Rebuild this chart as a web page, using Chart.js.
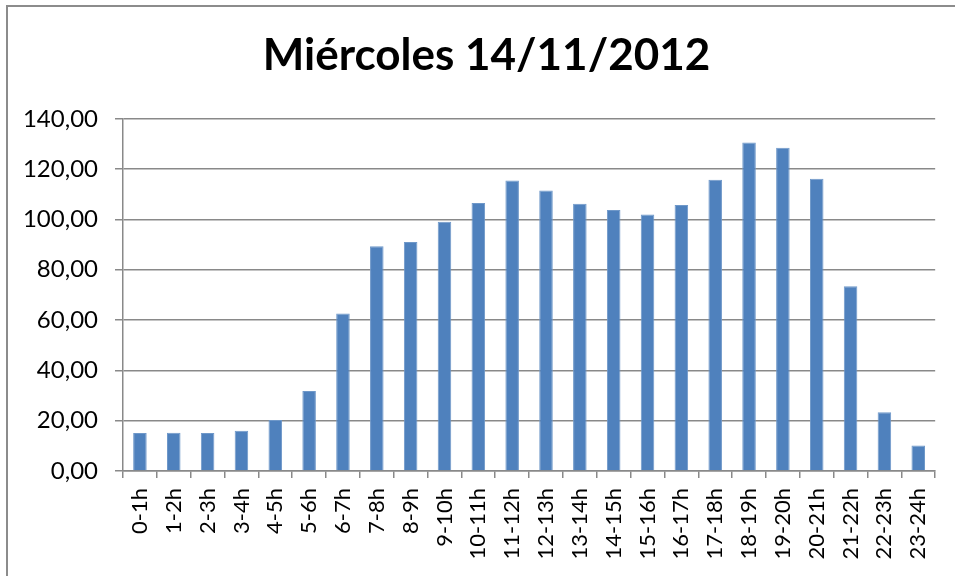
<!DOCTYPE html>
<html>
<head>
<meta charset="utf-8">
<script src="https://cdn.jsdelivr.net/npm/chart.js@4"></script>
<style>
  body { margin: 0; background: #fff; }
  #wrap { position: relative; width: 955px; height: 576px; }
  #frame { position: absolute; left: 6px; top: 5px; right: 0; bottom: 0;
           border-left: 2px solid #8c8c8c; border-top: 2px solid #8c8c8c; }
</style>
</head>
<body>
<div id="wrap">
  <div id="frame"></div>
  <canvas id="myChart" width="955" height="576"></canvas>
</div>
<script>
const labels = [
    '0-1h', '1-2h', '2-3h', '3-4h', '4-5h', '5-6h',
    '6-7h', '7-8h', '8-9h', '9-10h', '10-11h', '11-12h',
    '12-13h', '13-14h', '14-15h', '15-16h', '16-17h', '17-18h',
    '18-19h', '19-20h', '20-21h', '21-22h', '22-23h', '23-24h',
];
const values = [
    15.1, 15.2, 15.1, 16.0, 20.3, 31.8,
    62.6, 89.3, 91.0, 99.1, 106.5, 115.5,
    111.5, 106.2, 103.7, 102.0, 105.7, 115.8,
    130.6, 128.5, 116.2, 73.4, 23.4, 10.1,
];
const yTicks = [0, 20, 40, 60, 80, 100, 120, 140];
const title = 'Miércoles 14/11/2012';

const gridColor = '#898989';

// nudge the title so it is centred like in the original (slightly right of the canvas middle)
const shiftTitle = {
    id: 'shiftTitle',
    afterLayout(chart) {
        if (chart.titleBlock) chart.titleBlock.left += 30;
    }
};

const config = {
    type: 'bar',
    data: {
        labels: labels,
        datasets: [{
            label: title,
            data: values,
            backgroundColor: '#4f81bd',
            borderColor: '#6f98c9',
            borderWidth: 1,
            categoryPercentage: 1,
            barPercentage: 0.4,
        }]
    },
    options: {
        responsive: false,
        animation: false,
        layout: { padding: { left: 5, right: 17, top: 0, bottom: 5 } },
        plugins: {
            legend: { display: false },
            tooltip: { enabled: false },
            title: {
                display: true,
                text: title,
                color: '#000',
                font: { family: 'Lato', size: 44, weight: 'bold' },
                padding: { top: 29, bottom: 37 },
            },
        },
        scales: {
            x: {
                grid: { drawOnChartArea: false, drawTicks: true, tickLength: 7, color: gridColor, lineWidth: 1.5 },
                border: { color: gridColor, width: 1.5 },
                ticks: {
                    color: '#000',
                    font: { family: 'Lato', size: 22 },
                    minRotation: 90, maxRotation: 90,
                    autoSkip: false,
                    padding: 10,
                },
                afterFit: s => { s.height = 100; },
            },
            y: {
                min: 0,
                max: 140,
                afterBuildTicks: s => { s.ticks = yTicks.map(v => ({ value: v })); },
                grid: { color: gridColor, lineWidth: 1.5, tickLength: 8 },
                border: { color: gridColor, width: 1.5 },
                ticks: {
                    color: '#000',
                    font: { family: 'Lato', size: 24 },
                    padding: 17,
                    callback: v => v.toFixed(2).replace('.', ','),
                },
                afterFit: s => { s.width = 118; },
            },
        },
    },
    plugins: [shiftTitle],
};

const myChart = new Chart(
    document.getElementById('myChart'),
    config
);
</script>
</body>
</html>
